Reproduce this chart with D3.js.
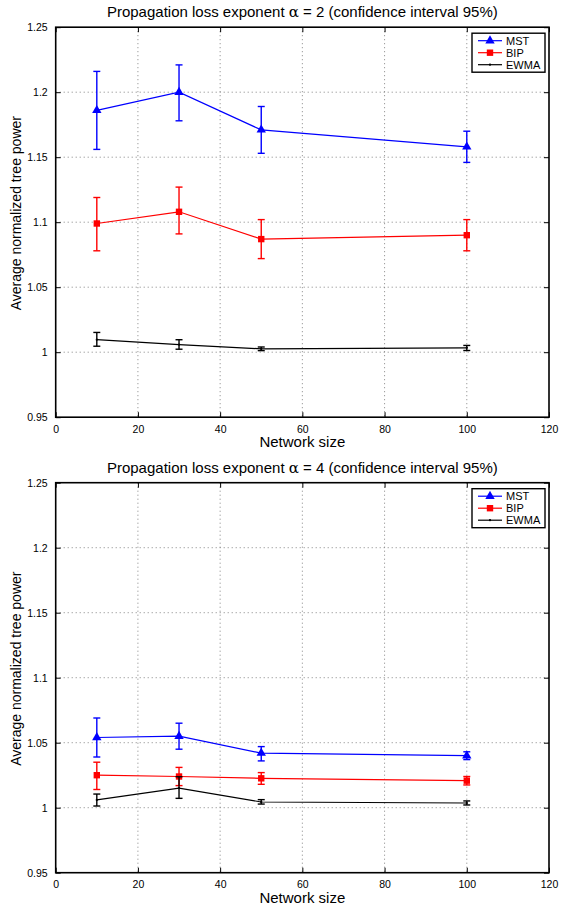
<!DOCTYPE html>
<html>
<head>
<meta charset="utf-8">
<script src="https://cdn.jsdelivr.net/npm/d3@7"></script>
<style>
  body { margin: 0; background: #fff; }
  text { font-family: "Liberation Sans", Arial, sans-serif; }
</style>
</head>
<body>
<div id="chart"></div>
<script>
// network sizes and axis ticks
const sizes = [10, 30, 50, 100];
const xTicks = [0, 20, 40, 60, 80, 100, 120];
const yTicks = [0.95, 1, 1.05, 1.1, 1.15, 1.2, 1.25];
const seriesNames = ["MST", "BIP", "EWMA"];

// alpha = 2 : mean, lower and upper bound of 95% interval
const mstA2 = [1.186, 1.200, 1.171, 1.158];
const mstA2Lo = [1.156, 1.178, 1.153, 1.146];
const mstA2Hi = [1.216, 1.221, 1.189, 1.170];
const bipA2 = [1.099, 1.108, 1.087, 1.090];
const bipA2Lo = [1.078, 1.091, 1.072, 1.078];
const bipA2Hi = [1.119, 1.127, 1.102, 1.102];
const ewmaA2 = [1.0096, 1.0059, 1.0026, 1.0034];
const ewmaA2Lo = [1.0046, 1.0023, 1.0012, 1.0013];
const ewmaA2Hi = [1.0152, 1.0096, 1.0040, 1.0052];

// alpha = 4
const mstA4 = [1.054, 1.055, 1.042, 1.040];
const mstA4Lo = [1.039, 1.045, 1.036, 1.037];
const mstA4Hi = [1.069, 1.065, 1.047, 1.043];
const bipA4 = [1.025, 1.024, 1.0226, 1.0208];
const bipA4Lo = [1.014, 1.017, 1.018, 1.0175];
const bipA4Hi = [1.035, 1.031, 1.027, 1.024];
const ewmaA4 = [1.006, 1.015, 1.0044, 1.0036];
const ewmaA4Lo = [1.0013, 1.0072, 1.0028, 1.0021];
const ewmaA4Hi = [1.0105, 1.0238, 1.0062, 1.0052];

const colors = { MST: "#0000ff", BIP: "#ff0000", EWMA: "#000000" };

const W = 569, H = 909;
const svg = d3.select("#chart").append("svg")
  .attr("width", W).attr("height", H);

function panel(top, title, data) {
  const left = 55.7, right = 549, y0 = top, y1 = top + 390;
  const x = d3.scaleLinear().domain([0, 120]).range([left, right]);
  const y = d3.scaleLinear().domain([0.95, 1.25]).range([y1, y0]);
  const g = svg.append("g");

  // dotted grid
  g.selectAll(".gx").data(xTicks.slice(1, -1)).enter().append("line")
    .attr("x1", d => x(d)).attr("x2", d => x(d))
    .attr("y1", y0).attr("y2", y1)
    .attr("stroke", "#777").attr("stroke-width", 0.9)
    .attr("stroke-dasharray", "1,3");
  g.selectAll(".gy").data(yTicks.slice(1, -1)).enter().append("line")
    .attr("y1", d => y(d)).attr("y2", d => y(d))
    .attr("x1", left).attr("x2", right)
    .attr("stroke", "#777").attr("stroke-width", 0.9)
    .attr("stroke-dasharray", "1,3");

  // axes (matlab style, ticks inward)
  g.append("g").attr("transform", `translate(0,${y1})`)
    .call(d3.axisBottom(x).tickValues(xTicks).tickSize(-5).tickPadding(8).tickFormat(d3.format("d")))
    .call(a => a.select(".domain").remove());
  g.append("g").attr("transform", `translate(0,${y0})`)
    .call(d3.axisTop(x).tickValues(xTicks).tickSize(-5).tickFormat(""))
    .call(a => a.select(".domain").remove());
  g.append("g").attr("transform", `translate(${left},0)`)
    .call(d3.axisLeft(y).tickValues(yTicks).tickSize(-5).tickPadding(8).tickFormat(d => d3.format("")(+d.toFixed(2))))
    .call(a => a.select(".domain").remove());
  g.append("g").attr("transform", `translate(${right},0)`)
    .call(d3.axisRight(y).tickValues(yTicks).tickSize(-5).tickFormat(""))
    .call(a => a.select(".domain").remove());
  g.selectAll(".tick text").attr("font-size", 10.5).attr("fill", "#000")
    .style("font-family", "Liberation Sans, Arial, sans-serif");
  g.selectAll(".tick line").attr("stroke", "#000");
  g.append("rect").attr("x", left).attr("y", y0)
    .attr("width", right - left).attr("height", y1 - y0)
    .attr("fill", "none").attr("stroke", "#000").attr("stroke-width", 1.6);

  // series
  const line = d3.line().x(d => x(d.s)).y(d => y(d.m));
  data.forEach(ser => {
    const pts = sizes.map((s, i) => ({ s, m: ser.mean[i], lo: ser.lo[i], hi: ser.hi[i] }));
    const c = colors[ser.name];
    g.append("path").datum(pts).attr("d", line)
      .attr("fill", "none").attr("stroke", c).attr("stroke-width", 1.2);
    const eb = g.append("g").attr("stroke", c).attr("stroke-width", 1.4);
    pts.forEach(p => {
      eb.append("line").attr("x1", x(p.s)).attr("x2", x(p.s)).attr("y1", y(p.lo)).attr("y2", y(p.hi));
      eb.append("line").attr("x1", x(p.s) - 3.5).attr("x2", x(p.s) + 3.5).attr("y1", y(p.lo)).attr("y2", y(p.lo));
      eb.append("line").attr("x1", x(p.s) - 3.5).attr("x2", x(p.s) + 3.5).attr("y1", y(p.hi)).attr("y2", y(p.hi));
    });
    g.selectAll(null).data(pts).enter().append("path")
      .attr("transform", d => `translate(${x(d.s)},${y(d.m)})`)
      .attr("d", marker(ser.name))
      .attr("fill", c);
  });

  // legend
  const lg = g.append("g");
  lg.append("rect").attr("x", 472).attr("y", y0 + 6).attr("width", 73).attr("height", 39)
    .attr("fill", "#fff").attr("stroke", "#000").attr("stroke-width", 1.4);
  seriesNames.forEach((n, i) => {
    const ly = y0 + 13.5 + i * 12;
    lg.append("line").attr("x1", 478).attr("x2", 502).attr("y1", ly).attr("y2", ly)
      .attr("stroke", colors[n]).attr("stroke-width", 1.2);
    lg.append("path").attr("transform", `translate(490,${ly})`).attr("d", marker(n)).attr("fill", colors[n]);
    lg.append("text").attr("x", 506).attr("y", ly + 4).attr("font-size", 11).text(n);
  });

  // titles
  const t = g.append("text").attr("x", (left + right) / 2).attr("y", y0 - 10)
    .attr("text-anchor", "middle").attr("font-size", 15);
  t.append("tspan").text("Propagation loss exponent ");
  t.append("tspan").style("font-family", "DejaVu Serif, serif").text("α");
  t.append("tspan").text(title);
  g.append("text").attr("x", (left + right) / 2).attr("y", y1 + 30)
    .attr("text-anchor", "middle").attr("font-size", 15).text("Network size");
  g.append("text").attr("transform", `translate(21,${(y0 + y1) / 2 - 9}) rotate(-90)`)
    .attr("text-anchor", "middle").attr("font-size", 14).text("Average normalized tree power");
}

function marker(name) {
  if (name === "MST") return d3.symbol(d3.symbolTriangle, 38)();
  if (name === "BIP") return "M-3.2,-3.2H3.2V3.2H-3.2Z";
  return d3.symbol(d3.symbolCircle, 4)();
}

panel(27.2, " = 2 (confidence interval 95%)", [
  { name: "MST", mean: mstA2, lo: mstA2Lo, hi: mstA2Hi },
  { name: "BIP", mean: bipA2, lo: bipA2Lo, hi: bipA2Hi },
  { name: "EWMA", mean: ewmaA2, lo: ewmaA2Lo, hi: ewmaA2Hi }
]);
panel(482.7, " = 4 (confidence interval 95%)", [
  { name: "MST", mean: mstA4, lo: mstA4Lo, hi: mstA4Hi },
  { name: "BIP", mean: bipA4, lo: bipA4Lo, hi: bipA4Hi },
  { name: "EWMA", mean: ewmaA4, lo: ewmaA4Lo, hi: ewmaA4Hi }
]);
</script>
</body>
</html>
